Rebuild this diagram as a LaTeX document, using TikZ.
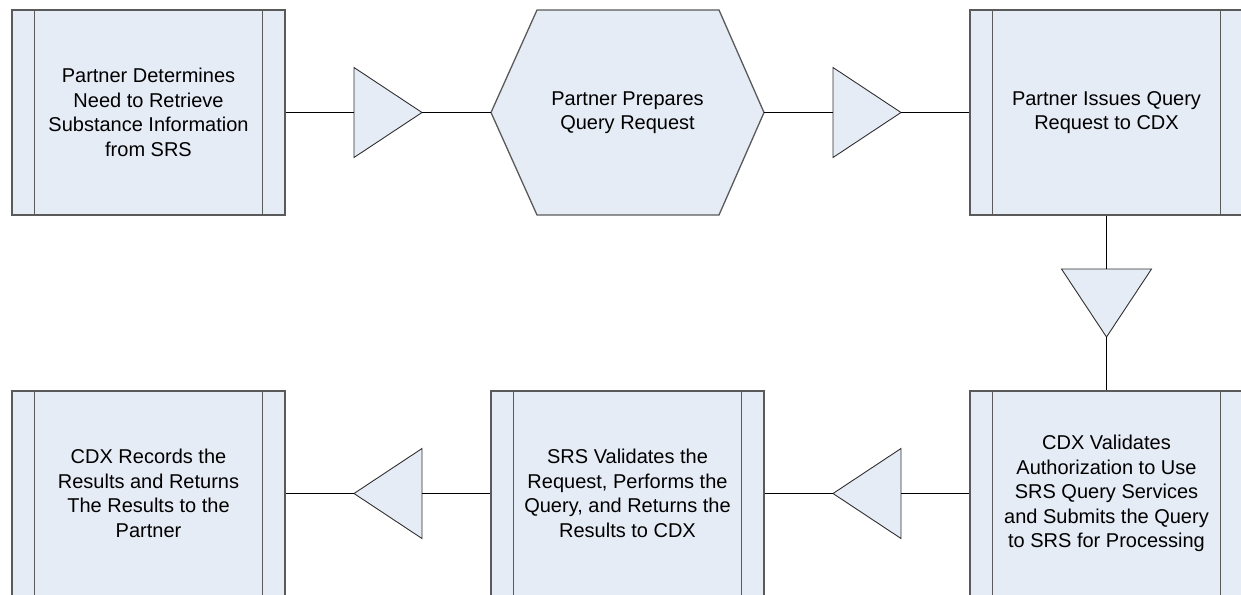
\documentclass[tikz,border=0pt]{standalone}
\usepackage{fontspec}
\setmainfont{Liberation Sans}
\usetikzlibrary{shapes.geometric}
\definecolor{boxfill}{HTML}{E6ECF6}
\definecolor{boxline}{HTML}{5A5A5A}
\definecolor{triline}{HTML}{303030}
\tikzset{
  procbox/.style={rectangle, draw=boxline, line width=1.3pt, fill=boxfill,
    minimum width=273pt, minimum height=205pt, inner sep=0pt, align=center,
    font=\fontsize{20}{24.5}\selectfont,
    path picture={
      \draw[boxline, line width=1.3pt]
        ([xshift=22.5pt]path picture bounding box.north west) -- ([xshift=22.5pt]path picture bounding box.south west)
        ([xshift=-22.5pt]path picture bounding box.north east) -- ([xshift=-22.5pt]path picture bounding box.south east);
    }},
  hexfrm/.style={rectangle, minimum width=273pt, minimum height=205pt, inner sep=0pt, align=center,
    font=\fontsize{20}{24.5}\selectfont},
  hexline/.style={draw=boxline, line width=1.3pt, fill=boxfill},
  tri/.style={isosceles triangle, isosceles triangle stretches, draw=triline, line width=0.9pt,
    fill=boxfill, minimum width=90pt, minimum height=68pt, inner sep=0pt, outer sep=0pt},
  conn/.style={draw=black, line width=1pt}
}
\begin{document}
\begin{tikzpicture}[x=1pt,y=-1pt]
\useasboundingbox (0,0) rectangle (1241,594);
\clip (0,0) rectangle (1241,594);
% hexagon outline
\path[hexline] (491,112.5) -- (537,10) -- (719,10) -- (764,112.5) -- (719,215) -- (537,215) -- cycle;
\node[hexfrm] (hex) at (627.5,112.5) {Partner Prepares\\Query Request};
% boxes
\node[procbox] (b1) at (148.5,112.5) {Partner Determines\\Need to Retrieve\\Substance Information\\from SRS};
\node[procbox] (b3) at (1106.5,112.5) {Partner Issues Query\\Request to CDX};
\node[procbox] (b6) at (1106.5,493.5) {CDX Validates\\Authorization to Use\\SRS Query Services\\and Submits the Query\\to SRS for Processing};
\node[procbox] (b5) at (627.5,493.5) {SRS Validates the\\Request, Performs the\\Query, and Returns the\\Results to CDX};
\node[procbox] (b4) at (148.5,493.5) {CDX Records the\\Results and Returns\\The Results to the\\Partner};
% triangles
\node[tri, anchor=lower side] (t1) at (354,112.5) {};
\node[tri, anchor=lower side] (t2) at (833,112.5) {};
\node[tri, rotate=-90, anchor=lower side] (t3) at (1106.5,269) {};
\node[tri, rotate=180, anchor=lower side] (t4) at (901,493.5) {};
\node[tri, rotate=180, anchor=lower side] (t5) at (422,493.5) {};
% connectors
\draw[conn] (b1) -- (t1);
\draw[conn] (t1) -- (hex);
\draw[conn] (hex) -- (t2);
\draw[conn] (t2) -- (b3);
\draw[conn] (b3) -- (t3);
\draw[conn] (t3) -- (b6);
\draw[conn] (b6) -- (t4);
\draw[conn] (t4) -- (b5);
\draw[conn] (b5) -- (t5);
\draw[conn] (t5) -- (b4);
\end{tikzpicture}
\end{document}
